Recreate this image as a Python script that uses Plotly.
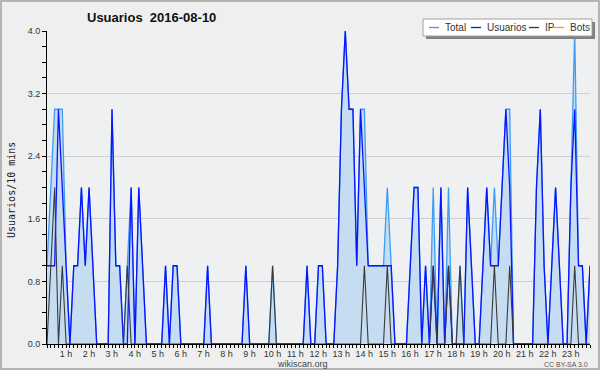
import plotly.graph_objects as go

# 10-minute slots, 00:00 .. 23:40 (one row per hour)
usuarios = [
    1, 1, 1, 3, 2, 1,
    0, 1, 1, 2, 1, 2,
    1, 0, 0, 0, 0, 3,
    1, 1, 0, 0, 2, 0,
    2, 1, 0, 0, 0, 0,
    0, 1, 0, 1, 1, 0,
    0, 0, 0, 0, 0, 0,
    1, 0, 0, 0, 0, 0,
    0, 0, 0, 0, 1, 0,
    0, 0, 0, 0, 0, 0,
    0, 0, 0, 0, 0, 0,
    0, 0, 1, 0, 0, 1,
    1, 0, 0, 0, 1, 3,
    4, 3, 3, 1, 3, 2,
    1, 1, 1, 1, 1, 1,
    1, 0, 0, 0, 0, 1,
    2, 2, 0, 1, 0, 1,
    0, 2, 0, 1, 0, 0,
    0, 0, 2, 1, 0, 0,
    1, 2, 1, 1, 1, 2,
    3, 2, 0, 0, 0, 0,
    0, 0, 2, 3, 1, 0,
    1, 2, 1, 0, 0, 2,
    3, 1, 1, 0, 1,
]
ip = [
    0, 1, 2, 0, 1, 0,
    0, 0, 0, 0, 0, 0,
    0, 0, 0, 0, 0, 0,
    0, 0, 0, 1, 0, 0,
    0, 0, 0, 0, 0, 0,
    0, 0, 0, 0, 0, 0,
    0, 0, 0, 0, 0, 0,
    0, 0, 0, 0, 0, 0,
    0, 0, 0, 0, 0, 0,
    0, 0, 0, 0, 0, 1,
    0, 0, 0, 0, 0, 0,
    0, 0, 0, 0, 0, 0,
    0, 0, 0, 0, 0, 0,
    0, 0, 0, 0, 0, 1,
    0, 0, 0, 0, 0, 1,
    0, 0, 0, 0, 0, 0,
    0, 0, 0, 0, 0, 1,
    0, 0, 0, 1, 0, 0,
    1, 0, 0, 0, 0, 0,
    0, 0, 0, 1, 0, 0,
    0, 1, 0, 0, 0, 0,
    0, 0, 0, 0, 0, 0,
    0, 0, 0, 0, 0, 0,
    1, 0, 0, 0, 0,
]
total = [
    1, 2, 3, 3, 3, 1,
    0, 1, 1, 2, 1, 2,
    1, 0, 0, 0, 0, 3,
    1, 1, 0, 1, 2, 0,
    2, 1, 0, 0, 0, 0,
    0, 1, 0, 1, 1, 0,
    0, 0, 0, 0, 0, 0,
    1, 0, 0, 0, 0, 0,
    0, 0, 0, 0, 1, 0,
    0, 0, 0, 0, 0, 1,
    0, 0, 0, 0, 0, 0,
    0, 0, 1, 0, 0, 1,
    1, 0, 0, 0, 1, 3,
    4, 3, 3, 1, 3, 3,
    1, 1, 1, 1, 1, 2,
    1, 0, 0, 0, 0, 1,
    2, 2, 0, 1, 0, 2,
    0, 2, 0, 2, 0, 0,
    1, 0, 2, 1, 0, 0,
    1, 2, 1, 2, 1, 2,
    3, 3, 0, 0, 0, 0,
    0, 0, 2, 3, 1, 0,
    1, 2, 1, 0, 0, 2,
    4, 1, 1, 0, 1,
]
bots = [0] * len(usuarios)

hours = [k / 6 for k in range(len(usuarios))]
hour_ticks = list(range(1, 24))
hour_labels = [f"{h} h" for h in hour_ticks]
y_ticks = [0, 0.8, 1.6, 2.4, 3.2, 4.0]
y_labels = ["0.0", "0.8", "1.6", "2.4", "3.2", "4.0"]

C_TOTAL = "#3d9df5"
C_FILL = "#c6ddf1"
C_USR = "#0a14ff"
C_IP = "#3a3a3a"
C_BOTS = "#ff9a14"

W, H = 600, 370
L, R, T, B = 47, 10, 31, 26
PW, PH = W - L - R, H - T - B


def px(x):
    return (x - L) / PW


def py(y):
    return (H - B - y) / PH


fig = go.Figure()
fig.add_trace(go.Scatter(x=hours, y=bots, name="Bots", mode="lines",
                         line=dict(color=C_BOTS, width=1)))
fig.add_trace(go.Scatter(x=hours, y=total, name="Total", mode="lines",
                         fill="tozeroy", fillcolor=C_FILL,
                         line=dict(color=C_TOTAL, width=1.3)))
fig.add_trace(go.Scatter(x=hours, y=usuarios, name="Usuarios", mode="lines",
                         line=dict(color=C_USR, width=1.3)))
fig.add_trace(go.Scatter(x=hours, y=ip, name="IP", mode="lines",
                         line=dict(color=C_IP, width=1.1)))

font_main = "Liberation Sans, Arial, sans-serif"

fig.update_layout(
    width=W, height=H,
    margin=dict(l=L, r=R, t=T, b=B, autoexpand=False),
    paper_bgcolor="#efefef",
    plot_bgcolor="#eef0f2",
    showlegend=False,
    hovermode=False,
    font=dict(family=font_main, size=9, color="#333333"),
    xaxis=dict(
        range=[0, hours[-1]], showgrid=False, zeroline=False,
        showline=True, linecolor="#000000", linewidth=1,
        tickvals=hour_ticks, ticktext=hour_labels,
        ticks="outside", ticklen=3, tickcolor="#000000",
        ticklabelshift=-4, ticklabelstandoff=-2, automargin=False,
        minor=dict(dtick=1 / 6, tick0=0, ticks="outside", ticklen=3,
                   tickcolor="#000000", showgrid=False),
        tickfont=dict(size=9, color="#333333"),
    ),
    yaxis=dict(
        range=[0, 4], showgrid=True, gridcolor="#cfcfcf", gridwidth=1,
        zeroline=False, showline=True, linecolor="#000000", linewidth=1,
        tickvals=y_ticks, ticktext=y_labels, automargin=False,
        ticks="outside", ticklen=4, tickcolor="#000000",
        minor=dict(dtick=0.2, tick0=0, ticks="outside", ticklen=4,
                   tickcolor="#000000", showgrid=False),
        tickfont=dict(size=9, color="#333333"),
    ),
)

shapes = []
annotations = []
# outer border
shapes.append(dict(type="rect", xref="paper", yref="paper",
                   x0=px(1), x1=px(599), y0=py(369), y1=py(1),
                   line=dict(color="#b4b4b4", width=2), fillcolor="rgba(0,0,0,0)",
                   layer="above"))
# legend shadow + box
shapes.append(dict(type="rect", xref="paper", yref="paper",
                   x0=px(426), x1=px(595), y0=py(39), y1=py(22),
                   line=dict(width=0), fillcolor="#808080", layer="above"))
shapes.append(dict(type="rect", xref="paper", yref="paper",
                   x0=px(423), x1=px(592), y0=py(36), y1=py(19),
                   line=dict(color="#a0a0a0", width=1), fillcolor="#ffffff",
                   layer="above"))
legend_items = [("Total", C_TOTAL, 429), ("Usuarios", C_USR, 471),
                ("IP", C_IP, 529), ("Bots", C_BOTS, 554)]
for name, col, x0 in legend_items:
    shapes.append(dict(type="line", xref="paper", yref="paper",
                       x0=px(x0), x1=px(x0 + 10), y0=py(27.5), y1=py(27.5),
                       line=dict(color=col, width=1.3), layer="above"))
    annotations.append(dict(text=name, xref="paper", yref="paper",
                            x=px(x0 + 14), y=py(27.5), xanchor="left",
                            yanchor="middle", showarrow=False,
                            font=dict(size=10, color="#333333", family=font_main)))

annotations.append(dict(text="<b>Usuarios  2016-08-10</b>", xref="paper", yref="paper",
                        x=px(151), y=py(17), xanchor="center", yanchor="middle",
                        showarrow=False,
                        font=dict(size=13, color="#111111", family=font_main)))
annotations.append(dict(text="Usuarios/10 mins", xref="paper", yref="paper",
                        x=px(11), y=py(190), xanchor="center", yanchor="middle",
                        textangle=-90, showarrow=False,
                        font=dict(size=10, color="#222222", family="DejaVu Sans Mono, monospace")))
annotations.append(dict(text="wikiscan.org", xref="paper", yref="paper",
                        x=px(302), y=py(364.5), xanchor="center", yanchor="middle",
                        showarrow=False, font=dict(size=9, color="#444444")))
annotations.append(dict(text="CC BY-SA 3.0", xref="paper", yref="paper",
                        x=px(566), y=py(364), xanchor="center", yanchor="middle",
                        showarrow=False, font=dict(size=7, color="#555555")))

fig.update_layout(shapes=shapes, annotations=annotations)
fig.write_html("out.html", config={"displayModeBar": False, "staticPlot": True},
               post_script="document.body.style.margin='0';document.body.style.overflow='hidden';")
